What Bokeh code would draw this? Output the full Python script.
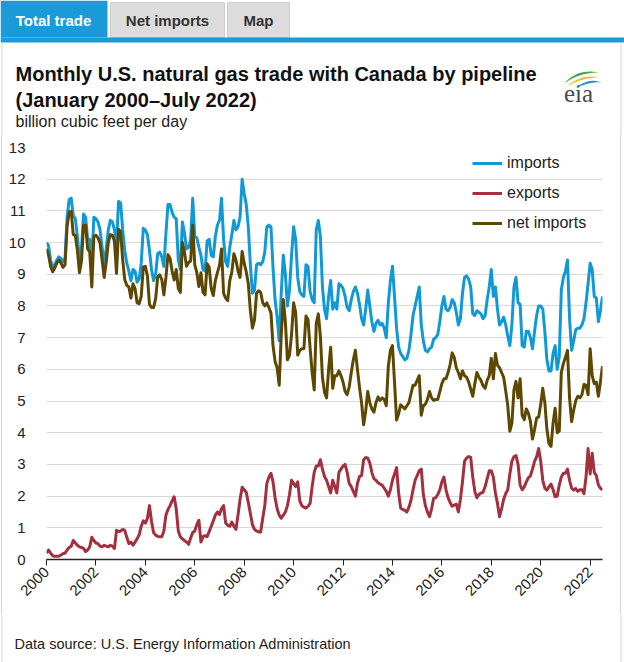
import numpy as np
from math import pi

from bokeh.plotting import figure
from bokeh.layouts import column
from bokeh.core.properties import value
from bokeh.models import ColumnDataSource, Range1d, FixedTicker, Legend, LegendItem
from bokeh.embed import file_html
from bokeh.resources import INLINE

# ---------------------------------------------------------------------------
# Monthly U.S. pipeline natural gas trade with Canada, billion cubic feet per day
# (January 2000 - July 2022), one row per year
# ---------------------------------------------------------------------------
imports_bcfd = [
    10.0, 9.9, 9.45, 9.2, 9.3, 9.45, 9.55, 9.5, 9.4, 9.5, 10.8, 11.35,        # 2000
    11.4, 10.85, 10.75, 10.2, 9.45, 9.8, 10.9, 10.8, 10.1, 10.1, 9.3, 10.8,    # 2001
    10.75, 10.65, 10.4, 9.85, 9.35, 9.8, 10.4, 10.7, 10.65, 10.4, 9.95, 11.3,  # 2002
    11.25, 10.4, 9.75, 9.35, 9.1, 8.8, 9.15, 9.1, 8.75, 8.85, 9.35, 10.45,     # 2003
    10.4, 10.25, 9.75, 9.15, 8.8, 9.0, 9.65, 9.7, 9.55, 9.25, 10.3, 11.2,      # 2004
    11.2, 10.95, 10.8, 10.75, 9.45, 9.15, 10.65, 10.3, 9.8, 9.85, 10.1, 11.4,  # 2005
    10.2, 10.15, 9.85, 9.6, 9.15, 9.1, 10.05, 10.1, 9.6, 9.55, 10.2, 10.55,    # 2006
    10.7, 11.4, 10.1, 9.4, 9.25, 9.85, 10.25, 10.7, 10.4, 10.5, 10.8, 12.0,    # 2007
    11.55, 11.2, 10.5, 9.3, 8.4, 8.5, 9.3, 9.35, 9.3, 9.4, 9.7, 10.5,          # 2008
    10.55, 10.5, 9.2, 8.2, 7.65, 6.9, 8.4, 9.6, 9.0, 8.0, 8.5, 9.6,            # 2009
    10.5, 10.1, 8.9, 8.45, 8.35, 8.3, 9.3, 9.25, 8.45, 8.2, 8.1, 10.4,         # 2010
    10.7, 10.2, 8.6, 7.9, 7.6, 8.3, 8.8, 7.9, 8.1, 7.9, 8.7, 8.65,             # 2011
    8.55, 8.3, 7.95, 7.85, 8.2, 8.45, 8.6, 8.4, 8.05, 7.6, 7.4, 7.9,           # 2012
    8.5, 8.0, 7.5, 7.2, 7.45, 7.55, 7.4, 7.45, 7.3, 7.0, 8.1, 8.8,             # 2013
    9.25, 8.3, 7.3, 6.7, 6.5, 6.4, 6.3, 6.35, 6.6, 7.1, 7.7, 8.0,              # 2014
    8.3, 8.6, 7.4, 6.9, 6.6, 6.55, 6.65, 6.7, 6.95, 7.0, 7.1, 7.5,             # 2015
    8.0, 8.3, 7.9, 7.85, 7.95, 8.2, 8.1, 7.8, 7.4, 7.6, 8.4, 8.9,              # 2016
    8.95, 8.85, 8.6, 7.75, 7.7, 7.85, 7.8, 7.75, 7.6, 7.7, 8.2, 8.6,           # 2017
    9.15, 8.3, 8.6, 7.9, 7.4, 7.5, 7.65, 7.4, 7.05, 6.75, 7.4, 8.6,            # 2018
    8.9, 8.1, 8.05, 6.75, 6.7, 7.2, 7.2, 7.0, 6.65, 7.2, 7.7, 8.0,             # 2019
    8.0, 7.9, 7.2, 6.3, 5.95, 5.95, 6.5, 6.75, 6.0, 6.4, 8.5, 8.9,             # 2020
    9.1, 9.45, 7.6, 6.6, 6.9, 7.25, 7.3, 7.3, 7.4, 7.6, 8.1, 8.7,              # 2021
    9.35, 9.15, 8.3, 8.25, 7.5, 7.85, 8.3,                                     # 2022
]

exports_bcfd = [
    0.2, 0.3, 0.2, 0.12, 0.1, 0.1, 0.1, 0.14, 0.18, 0.2, 0.3, 0.38,            # 2000
    0.42, 0.6, 0.52, 0.45, 0.4, 0.38, 0.35, 0.25, 0.3, 0.4, 0.7, 0.6,          # 2001
    0.52, 0.5, 0.42, 0.4, 0.45, 0.42, 0.4, 0.45, 0.42, 0.35, 0.92, 0.88,       # 2002
    0.9, 0.95, 0.92, 0.7, 0.5, 0.55, 0.45, 0.55, 0.65, 0.78, 1.05, 1.22,       # 2003
    1.15, 1.3, 1.7, 1.2, 0.85, 0.77, 0.73, 0.72, 0.72, 0.9, 1.4, 1.58,         # 2004
    1.7, 1.85, 1.98, 1.6, 0.9, 0.72, 0.65, 0.6, 0.55, 0.48, 0.68, 0.85,        # 2005
    0.9, 1.1, 1.24, 0.55, 0.72, 0.75, 0.72, 0.88, 1.05, 1.22, 1.4, 1.5,        # 2006
    1.42, 1.6, 1.7, 1.15, 1.08, 1.05, 1.18, 1.05, 0.95, 1.4, 1.9, 2.28,        # 2007
    2.2, 2.12, 1.8, 1.45, 1.1, 0.95, 0.9, 0.87, 0.87, 1.3, 1.7, 2.4,           # 2008
    2.6, 2.72, 2.45, 1.95, 1.6, 1.4, 1.3, 1.4, 1.5, 1.7, 2.05, 2.5,            # 2009
    2.4, 2.3, 2.45, 1.85, 1.7, 1.65, 1.62, 1.68, 1.77, 2.3, 2.75, 2.95,        # 2010
    2.95, 3.15, 2.85, 2.62, 2.5, 2.3, 2.1, 2.5, 2.3, 2.1, 2.75, 2.85,          # 2011
    2.95, 3.0, 2.75, 2.4, 2.3, 2.15, 2.0, 2.4, 2.62, 2.65, 3.15, 3.22,         # 2012
    3.2, 3.05, 2.75, 2.55, 2.5, 2.42, 2.38, 2.35, 2.25, 2.15, 2.0, 2.2,        # 2013
    2.5, 2.7, 2.9, 2.1, 1.62, 1.58, 1.55, 1.5, 1.65, 1.87, 2.2, 2.5,           # 2014
    2.65, 2.8, 2.85, 2.05, 1.7, 1.5, 1.35, 1.6, 1.93, 1.95, 2.05, 2.2,         # 2015
    2.45, 2.6, 2.2, 1.95, 1.8, 1.68, 1.72, 1.75, 1.5, 1.9, 2.45, 3.1,          # 2016
    3.2, 3.25, 3.22, 2.6, 2.15, 1.95, 2.05, 2.1, 2.12, 2.3, 2.55, 2.8,         # 2017
    2.8, 2.6, 2.1, 1.77, 1.35, 1.6, 1.9, 2.08, 2.2, 2.7, 3.1, 3.25,            # 2018
    3.28, 3.0, 2.35, 2.2, 2.29, 2.45, 2.58, 2.64, 2.85, 3.1, 3.24, 3.5,        # 2019
    3.1, 2.5, 2.25, 2.19, 2.29, 2.38, 2.2, 1.98, 2.0, 2.35, 2.6, 2.72,         # 2020
    2.72, 2.85, 2.5, 2.25, 2.19, 2.24, 2.15, 2.2, 2.2, 2.08, 2.6, 3.5,         # 2021
    2.7, 3.35, 2.75, 2.65, 2.35, 2.25, 2.2,                                    # 2022
]

series_names = ["imports", "exports", "net imports"]
year_ticks = list(range(2000, 2023, 2))
tick_labels = [str(y) for y in year_ticks]
value_ticks = list(range(0, 14))

tab_names = ["Total trade", "Net imports", "Map"]
title_lines = ["Monthly U.S. natural gas trade with Canada by pipeline",
               "(January 2000\u2013July 2022)"]
unit_text = "billion cubic feet per day"
source_text = "Data source: U.S. Energy Information Administration"

# ---------------------------------------------------------------------------
FONT = "Liberation Sans"
BLUE = "#1199d6"
RED = "#a2303f"
BROWN = "#5e4700"
TAB_BLUE = "#1a9bd7"
EDGE = "#d4d4d4"
W = 624
HEAD_H, CHART_H = 135, 479
FOOT_H = 662 - HEAD_H - CHART_H

# thin grey side rules of the content panel, painted behind a transparent canvas border
SIDE_RULES = {"background": (f"linear-gradient({EDGE},{EDGE}) 1px 0/1px 100% no-repeat, "
                             f"linear-gradient({EDGE},{EDGE}) 620px 0/1px 100% no-repeat, "
                             "#ffffff")}


def blank(height):
    """A plain drawing surface whose data units are page pixels (y downward)."""
    f = figure(width=W, height=height, output_backend="svg", toolbar_location=None,
               x_range=Range1d(0, W), y_range=Range1d(height, 0),
               x_axis_location=None, y_axis_location=None, min_border=0,
               frame_align=False)
    f.outline_line_color = None
    f.grid.visible = False
    f.background_fill_color = "white"
    f.border_fill_color = "white"
    return f


# ---- header: tabs, title, units, logo -------------------------------------
head = blank(HEAD_H)
head.quad(left=[0], right=[107], top=[0], bottom=[37], fill_color=TAB_BLUE, line_color=None)
head.quad(left=[110, 227], right=[224, 289], top=[2, 2], bottom=[37, 37],
          fill_color="#dcdcdc", line_color="#cdcdcd")
head.quad(left=[0], right=[W], top=[37], bottom=[42], fill_color=TAB_BLUE, line_color=None)
head.segment(x0=[1.5, 620.5], y0=[42, 42], x1=[1.5, 620.5], y1=[HEAD_H, HEAD_H],
             line_color=EDGE, line_width=1)

head.text(x=[53], y=[20], text=[tab_names[0]], text_font=value(FONT),
          text_font_size=value("15px"), text_font_style="bold", text_color="white",
          text_align="center", text_baseline="middle")
head.text(x=[167, 258], y=[20, 20], text=tab_names[1:], text_font=value(FONT),
          text_font_size=value("15px"), text_font_style="bold", text_color="#333333",
          text_align="center", text_baseline="middle")
head.text(x=[15, 15], y=[73, 99], text=title_lines, text_font=value(FONT),
          text_font_size=value("20px"), text_font_style="bold", text_color="#111111",
          text_baseline="middle")
head.text(x=[15], y=[121], text=[unit_text], text_font=value(FONT),
          text_font_size=value("16px"), text_color="#222222", text_baseline="middle")

# eia logo: word mark with three swooshes above it
head.text(x=[578], y=[93], text=["eia"], text_font=value("Liberation Serif"),
          text_font_size=value("25px"), text_color="#4a4a4a",
          text_align="center", text_baseline="middle")


def swoosh(x0, y0, xc, yc, x1, y1, w):
    t = np.linspace(0, 1, 24)
    bx = (1 - t) ** 2 * x0 + 2 * (1 - t) * t * xc + t ** 2 * x1
    by = (1 - t) ** 2 * y0 + 2 * (1 - t) * t * yc + t ** 2 * y1
    thick = w * np.sin(np.pi * np.clip(t * 0.9 + 0.1, 0, 1))
    return (list(bx) + list(bx[::-1]),
            list(by - thick / 2) + list((by + thick / 2)[::-1]))


sw = [swoosh(565, 82, 578, 70, 599, 72, 2.4),
      swoosh(568, 85, 582, 75, 599, 77, 2.2),
      swoosh(576, 87, 589, 79, 601, 82, 2.2)]
head.patches(xs=[s[0] for s in sw], ys=[s[1] for s in sw],
             fill_color=["#4aa34a", "#e9c21e", "#1d8fcf"], line_color=None)

# ---- chart -----------------------------------------------------------------
months = np.arange(len(imports_bcfd))
imports = np.array(imports_bcfd)
exports = np.array(exports_bcfd)
source = ColumnDataSource(dict(
    t=2000 + months / 12.0,
    imports=imports,
    exports=exports,
    net=imports - exports,   # net imports = imports minus exports
))

p = figure(width=W, height=CHART_H, output_backend="svg", toolbar_location=None,
           x_range=Range1d(2000, 2022.5), y_range=Range1d(0, 13),
           min_border_left=46, min_border_right=22,
           min_border_top=12, min_border_bottom=55, frame_align=False,
           styles=SIDE_RULES)
p.outline_line_color = None
p.background_fill_color = "white"
p.border_fill_alpha = 0

p.yaxis.ticker = FixedTicker(ticks=value_ticks)
p.yaxis.axis_line_color = None
p.yaxis.major_tick_line_color = None
p.yaxis.minor_tick_line_color = None
p.yaxis.major_label_standoff = 15
p.yaxis.major_label_text_font = FONT
p.yaxis.major_label_text_font_size = "15px"
p.yaxis.major_label_text_color = "#222222"

p.xaxis.ticker = FixedTicker(ticks=year_ticks)
p.xaxis.major_label_overrides = dict(zip(year_ticks, tick_labels))
p.xaxis.major_label_orientation = pi / 4
p.xaxis.axis_line_color = "#222222"
p.xaxis.axis_line_width = 1.5
p.xaxis.major_tick_line_color = "#222222"
p.xaxis.major_tick_in = 0
p.xaxis.major_tick_out = 6
p.xaxis.minor_tick_line_color = None
p.xaxis.major_label_standoff = 4
p.xaxis.major_label_text_font = FONT
p.xaxis.major_label_text_font_size = "15px"
p.xaxis.major_label_text_color = "#222222"

p.xgrid.visible = False
p.ygrid.ticker = FixedTicker(ticks=value_ticks)
p.ygrid.grid_line_color = "#d9d9d9"
p.ygrid.grid_line_width = 1

r_imp = p.line("t", "imports", source=source, color=BLUE, line_width=3, line_join="round")
r_exp = p.line("t", "exports", source=source, color=RED, line_width=3, line_join="round")
r_net = p.line("t", "net", source=source, color=BROWN, line_width=3, line_join="round")

legend = Legend(items=[LegendItem(label=series_names[0], renderers=[r_imp]),
                       LegendItem(label=series_names[1], renderers=[r_exp]),
                       LegendItem(label=series_names[2], renderers=[r_net])],
                location=(426, 326), orientation="vertical",
                glyph_width=30, glyph_height=20, label_height=20,
                spacing=10, padding=3, margin=0, label_standoff=5,
                label_text_font=FONT, label_text_font_size="16px",
                label_text_color="#222222",
                border_line_color=None, background_fill_alpha=0)
p.add_layout(legend, "center")

# ---- footer: data source ----------------------------------------------------
foot = blank(FOOT_H)
foot.segment(x0=[1.5, 620.5], y0=[0, 0], x1=[1.5, 620.5], y1=[FOOT_H, FOOT_H],
             line_color=EDGE, line_width=1)
foot.text(x=[14], y=[29], text=[source_text], text_font=value(FONT),
          text_font_size=value("14.5px"), text_color="#222222", text_baseline="middle")

page = column(head, p, foot, spacing=0)
open("out.html", "w").write(file_html(page, INLINE))
